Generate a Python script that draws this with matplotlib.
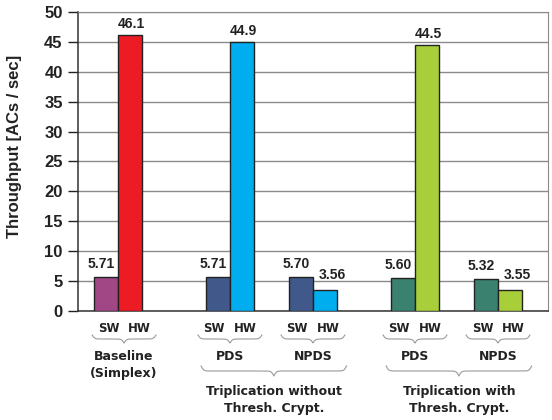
import numpy as np
import matplotlib.pyplot as plt
from matplotlib import transforms

# ---- data ----
group_labels = ["Baseline\n(Simplex)", "PDS", "NPDS", "PDS", "NPDS"]
sw_vals = [5.71, 5.71, 5.70, 5.60, 5.32]
hw_vals = [46.1, 44.9, 3.56, 44.5, 3.55]
value_text_sw = ["5.71", "5.71", "5.70", "5.60", "5.32"]
value_text_hw = ["46.1", "44.9", "3.56", "44.5", "3.55"]
sw_colors = ["#A24785", "#41598A", "#41598A", "#3A8170", "#3A8170"]
hw_colors = ["#ED1C24", "#00AEEF", "#00AEEF", "#A8CF3A", "#A8CF3A"]
super_labels = ["Triplication without\nThresh. Crypt.", "Triplication with\nThresh. Crypt."]
super_members = [(1, 2), (3, 4)]
y_ticks = list(range(0, 51, 5))

# ---- layout (bar width = 1 unit, ~24 px) ----
W, H = 552, 420
group_pos = [1.67, 6.33, 9.79, 14.04, 17.5]
label_shift = [0.25, 0, 0, 0, 0]   # baseline captions sit a bit right of its bars
bar_w = 1.0
num_font = "Liberation Sans"
cat_font = "DejaVu Sans"

fig = plt.figure(figsize=(W / 100, H / 100), dpi=100)
ax = fig.add_axes([78 / W, 109 / H, 470 / W, 299 / H])


def fy(px):
    """pixel row (from top) -> figure fraction"""
    return 1 - px / H


sw_x = [p - bar_w / 2 for p in group_pos]
hw_x = [p + bar_w / 2 for p in group_pos]
ax.bar(sw_x, sw_vals, bar_w, color=sw_colors, edgecolor="#222222", linewidth=1, zorder=3)
ax.bar(hw_x, hw_vals, bar_w, color=hw_colors, edgecolor="#222222", linewidth=1, zorder=3)

# value labels
for x, v, t in zip(sw_x, sw_vals, value_text_sw):
    ax.annotate(t, (x, v), xytext=(-5, 9), textcoords="offset pixels",
                ha="center", va="baseline", fontsize=10, fontweight="bold",
                family=num_font, color="#222222")
for x, v, t in zip(hw_x, hw_vals, value_text_hw):
    small = v < 10
    ax.annotate(t, (x, v), xytext=(7 if small else 1, 11 if small else 7),
                textcoords="offset pixels", ha="center", va="baseline",
                fontsize=10, fontweight="bold", family=num_font, color="#222222")

ax.set_xlim(0, 470 / 24)
ax.set_ylim(0, 50)
ax.set_yticks(y_ticks)
ax.set_xticks([])
ax.tick_params(axis="y", direction="out", length=7, width=1, pad=4,
               labelsize=12, colors="#222222")
for lab in ax.get_yticklabels():
    lab.set_fontweight("bold")
    lab.set_family(num_font)
ax.yaxis.grid(True, color="#8a8a8a", linewidth=1)
ax.set_axisbelow(True)
for s in ["top", "right"]:
    ax.spines[s].set_color("#8a8a8a")
for s in ["left", "bottom"]:
    ax.spines[s].set_color("#333333")
    ax.spines[s].set_linewidth(1.1)

ax.set_ylabel("Throughput [ACs / sec]", fontsize=12, fontweight="bold",
              family=num_font, color="#222222")
ax.yaxis.set_label_coords(-0.119, 0.55)

# ---- category labels and braces below the axis ----
trans = transforms.blended_transform_factory(ax.transData, fig.transFigure)
px_per_unit = 24.0


def brace(x0, x1, ytop, h):
    half_px = (x1 - x0) / 2 * px_per_unit
    b = half_px * 0.8
    u = np.linspace(0, 1, 401)
    yh = 1 / (1 + np.exp(-b * u)) + 1 / (1 + np.exp(-b * (u - 1)))
    yy = np.concatenate([yh, yh[-2::-1]])
    xx = np.linspace(x0, x1, len(yy))
    ypx = ytop + (yy - 0.5) * h
    ax.plot(xx, fy(ypx), transform=trans, color="#9a9a9a", lw=0.8, clip_on=False)


def lines(x, text, y0, step, size):
    for i, line in enumerate(text.split("\n")):
        ax.text(x, fy(y0 + i * step), line, transform=trans, ha="center",
                va="center", fontsize=size, fontweight="bold", family=cat_font,
                color="#222222")


for p, d, g in zip(group_pos, label_shift, group_labels):
    c = p + d
    ax.text(c - 0.65, fy(328), "SW", transform=trans, ha="center", va="center",
            fontsize=8.5, fontweight="bold", family=cat_font, color="#222222")
    ax.text(c + 0.65, fy(328), "HW", transform=trans, ha="center", va="center",
            fontsize=8.5, fontweight="bold", family=cat_font, color="#222222")
    brace(c - 1.33, c + 1.33, 335, 8)
    lines(c, g, 357, 17, 9)

for (a, b), s in zip(super_members, super_labels):
    x0 = group_pos[a] - 1.2
    x1 = group_pos[b] + 1.4
    brace(x0, x1, 366, 10)
    lines((x0 + x1) / 2, s, 392, 16.5, 9)

fig.savefig("out.png", dpi=100)
